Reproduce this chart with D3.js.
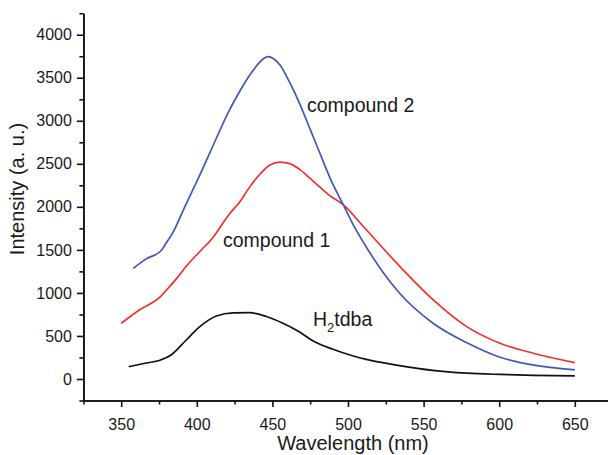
<!DOCTYPE html>
<html><head><meta charset="utf-8">
<script src="https://cdn.jsdelivr.net/npm/d3@7"></script>
<style>
body{margin:0;background:#fff}
svg{display:block}
text{font-family:"Liberation Sans",Arial,Helvetica,sans-serif;fill:#1a1a1a}
</style>
</head><body>
<svg id="chart" width="608" height="455"></svg>
<script>
// compound 2 (blue)
const wlCompound2 = [358, 366, 376.8, 379, 384.5, 391, 401.5, 413, 420, 429, 437, 444, 447, 451, 455, 461.6, 468, 475, 481.5, 488, 497, 504.6, 512.5, 523, 534, 556, 579, 600, 622, 650];
const compound2   = [1286, 1390, 1499, 1560, 1712, 1960, 2350, 2800, 3070, 3360, 3580, 3720, 3745, 3718, 3649, 3440, 3200, 2900, 2620, 2340, 2020, 1755, 1522, 1243, 999, 651, 418, 256, 163, 105];
// compound 1 (red)
const wlCompound1 = [350, 362, 376, 381, 387, 393, 403, 410, 413, 415.3, 422, 429, 433, 442, 448.4, 455, 462, 468, 475, 481, 488, 497, 510, 534.4, 556.4, 578.5, 600.5, 622.5, 650];
const compound1   = [647, 802, 956, 1054, 1175, 1310, 1499, 1630, 1700, 1760, 1925, 2070, 2180, 2385, 2487, 2520, 2500, 2435, 2330, 2235, 2130, 2022, 1775, 1305, 918, 608, 415, 299, 190];
// H2tdba (black)
const wlLigand = [355, 365, 376, 383, 393, 402, 413, 424, 435, 446, 457, 468, 477, 490, 503, 512, 521, 534, 556, 578.5, 600.5, 622.5, 650];
const ligand   = [143, 180, 221, 279, 453, 608, 732, 768, 770, 726, 647, 545, 440, 345, 270, 228, 195, 155, 100, 68, 53, 43, 35];

const xMajorTicks = [350, 400, 450, 500, 550, 600, 650];
const xMinorTicks = [325, 375, 425, 475, 525, 575, 625, 675];
const yMajorTicks = [0, 500, 1000, 1500, 2000, 2500, 3000, 3500, 4000];
const yMinorTicks = [-250, 250, 750, 1250, 1750, 2250, 2750, 3250, 3750, 4250];

const svg = d3.select("#chart");
const x = d3.scaleLinear().domain([325, 675]).range([83.4, 612.6]);
const y = d3.scaleLinear().domain([-250, 4250]).range([400.5, 13.2]);

// Axes
const xAxisMinor = d3.axisBottom(x).tickValues(xMinorTicks).tickSize(4).tickSizeOuter(0).tickFormat("");
const xAxis = d3.axisBottom(x).tickValues(xMajorTicks).tickSize(6.5).tickSizeOuter(0).tickPadding(12).tickFormat(d3.format("d"));
const yAxisMinor = d3.axisLeft(y).tickValues(yMinorTicks).tickSize(4).tickSizeOuter(0).tickFormat("");
const yAxis = d3.axisLeft(y).tickValues(yMajorTicks).tickSize(6.5).tickSizeOuter(0).tickPadding(5).tickFormat(d3.format("d"));

function styleAxis(g){
  g.selectAll("path,line").attr("stroke","#111").attr("stroke-width",1.6);
  g.selectAll("text").style("font-size","16px").attr("fill","#1a1a1a");
}
svg.append("g").attr("transform","translate(0,400.5)").call(xAxisMinor).call(styleAxis);
svg.append("g").attr("transform","translate(0,400.5)").call(xAxis).call(styleAxis);
svg.append("g").attr("transform","translate(83.4,0)").call(yAxisMinor).call(styleAxis);
svg.append("g").attr("transform","translate(83.4,0)").call(yAxis).call(styleAxis);

// Lines
const line = d3.line().x(d=>x(d[0])).y(d=>y(d[1])).curve(d3.curveMonotoneX);
const series = [
  {w: wlLigand, v: ligand, c: "#111111"},
  {w: wlCompound1, v: compound1, c: "#f2312e"},
  {w: wlCompound2, v: compound2, c: "#4058b8"}
];
series.forEach(s=>{
  svg.append("path")
    .datum(s.w.map((w,i)=>[w, s.v[i]]))
    .attr("fill","none").attr("stroke",s.c).attr("stroke-width",1.7)
    .attr("stroke-linejoin","round")
    .attr("d",line);
});

// Annotations
svg.append("text").attr("x",307).attr("y",111.5).style("font-size","19.5px").text("compound 2");
svg.append("text").attr("x",223).attr("y",247).style("font-size","19.5px").text("compound 1");
const h = svg.append("text").attr("x",313).attr("y",326).style("font-size","19.5px");
h.append("tspan").text("H");
h.append("tspan").attr("dy",6).style("font-size","13px").text("2");
h.append("tspan").attr("dy",-6).text("tdba");

// Axis titles
svg.append("text").attr("x",353).attr("y",450).attr("text-anchor","middle").style("font-size","20px").text("Wavelength (nm)");
svg.append("text").attr("transform","translate(24,189) rotate(-90)").attr("text-anchor","middle").style("font-size","20px").text("Intensity (a. u.)");
</script>
</body></html>
